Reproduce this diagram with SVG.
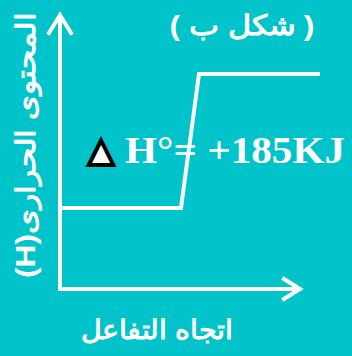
<svg xmlns="http://www.w3.org/2000/svg" width="352" height="356" viewBox="0 0 352 356">
<style>
.ln{fill:none;stroke:#fff;stroke-width:4;stroke-linecap:square;stroke-linejoin:miter}
.ar{font-family:"Liberation Sans","Noto Sans",sans-serif;font-weight:bold;fill:#fff}
.eq{font-family:"Liberation Serif",serif;font-weight:bold;fill:#fff}
</style>
<rect width="352" height="356" fill="#01c3ca"/>
<g id="connectors">
<path class="ln" d="M60,289 V16"/>
<path class="ln" d="M49,33 L60,15 L71,33"/>
<path class="ln" d="M60,289 H298"/>
<path class="ln" d="M284,279 L300,289 L284,299"/>
<path class="ln" d="M62,208 H181 L199,74 H318"/>
</g>
<g id="title"><text class="ar" x="242" y="35" font-size="28" text-anchor="middle" direction="rtl" textLength="145" lengthAdjust="spacingAndGlyphs">( شكل ب )</text></g>
<g id="ylabel"><text class="ar" transform="translate(35,145) rotate(-90)" font-size="27" text-anchor="middle" direction="rtl" textLength="266" lengthAdjust="spacingAndGlyphs">المحتوى الحرارى(H)</text></g>
<g id="xlabel"><text class="ar" x="157" y="339" font-size="27" text-anchor="middle" direction="rtl" textLength="153" lengthAdjust="spacingAndGlyphs">اتجاه التفاعل</text></g>
<g id="deltaH">
<text x="101" y="161" font-family="DejaVu Sans,sans-serif" font-size="32" text-anchor="middle" fill="#fff" stroke="#000" stroke-width="4" stroke-linejoin="miter">▲</text>
<text class="eq" x="125" y="163" font-size="37" textLength="220" lengthAdjust="spacingAndGlyphs">H°= +185KJ</text>
</g>
</svg>
